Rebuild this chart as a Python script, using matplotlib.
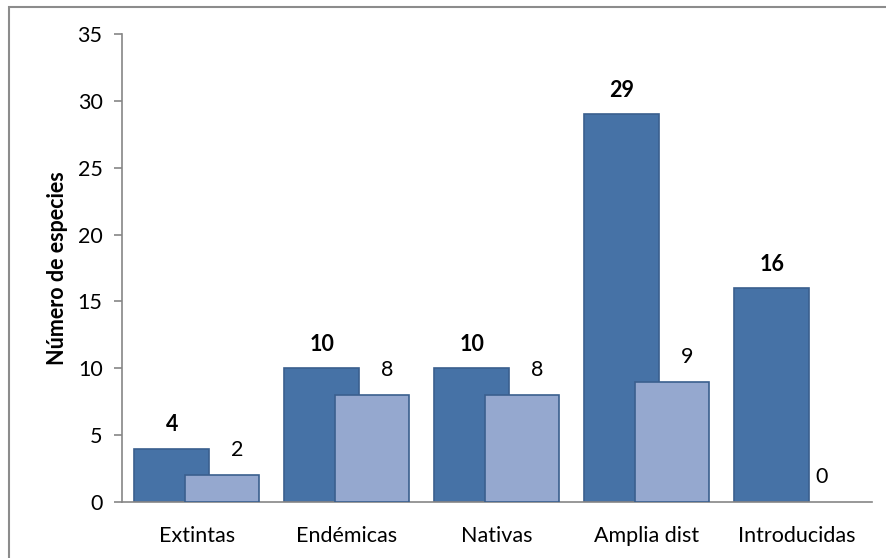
import matplotlib
matplotlib.use('Agg')
import matplotlib.pyplot as plt
from matplotlib.patches import Rectangle
import numpy as np

categorias = ['Extintas', 'Endémicas', 'Nativas', 'Amplia dist', 'Introducidas']
serie1 = [4, 10, 10, 29, 16]
serie2 = [2, 8, 8, 9, 0]

yticks = [0, 5, 10, 15, 20, 25, 30, 35]

plt.rcParams['font.family'] = ['Lato', 'DejaVu Sans']

W, H = 886, 558
fig = plt.figure(figsize=(W / 100, H / 100), dpi=100)
ax = fig.add_axes([122 / W, 1 - 502 / H, 750 / W, (502 - 34) / H])

x = np.arange(len(categorias))
oscuro = '#4672A6'
claro = '#95A8CF'
borde = '#3A5F8E'
fs = 15.5

ax.bar(x - 0.167, serie1, width=0.5, color=oscuro, edgecolor=borde, linewidth=1.2, zorder=2)
ax.bar(x + 0.167, serie2, width=0.493, color=claro, edgecolor=borde,
       linewidth=[1.2 if v > 0 else 0 for v in serie2], zorder=3)

for xi, v in zip(x, serie1):
    ax.annotate(str(v), (xi - 0.167, v), xytext=(0, 24), textcoords='offset pixels',
                ha='center', va='center', fontsize=fs, fontweight='bold')
for xi, v in zip(x, serie2):
    dx = 0.1 if v > 0 else 0
    ax.annotate(str(v), (xi + 0.167 + dx, v), xytext=(0, 25), textcoords='offset pixels',
                ha='center', va='center', fontsize=fs)

ax.set_xlim(-0.5, len(categorias) - 0.5)
ax.set_ylim(0, 35)
ax.set_yticks(yticks)
ax.set_xticks(x)
ax.set_xticklabels(categorias)
ax.tick_params(axis='x', length=0, pad=17, labelsize=fs)
ax.tick_params(axis='y', length=6, width=1.2, color='#868686', pad=8, labelsize=fs)

for s in ['top', 'right']:
    ax.spines[s].set_visible(False)
for s in ['left', 'bottom']:
    ax.spines[s].set_color('#868686')
    ax.spines[s].set_linewidth(1.2)

ax.set_ylabel('Número de especies', fontsize=fs, fontweight='bold', labelpad=7)

# marco gris del grafico
fig.patches.append(Rectangle((9 / W, -0.1), 1.1, 1.1 - 7 / H, transform=fig.transFigure,
                             fill=False, edgecolor='#8C8C8C', linewidth=1.5))

fig.savefig('out.png', dpi=100)
